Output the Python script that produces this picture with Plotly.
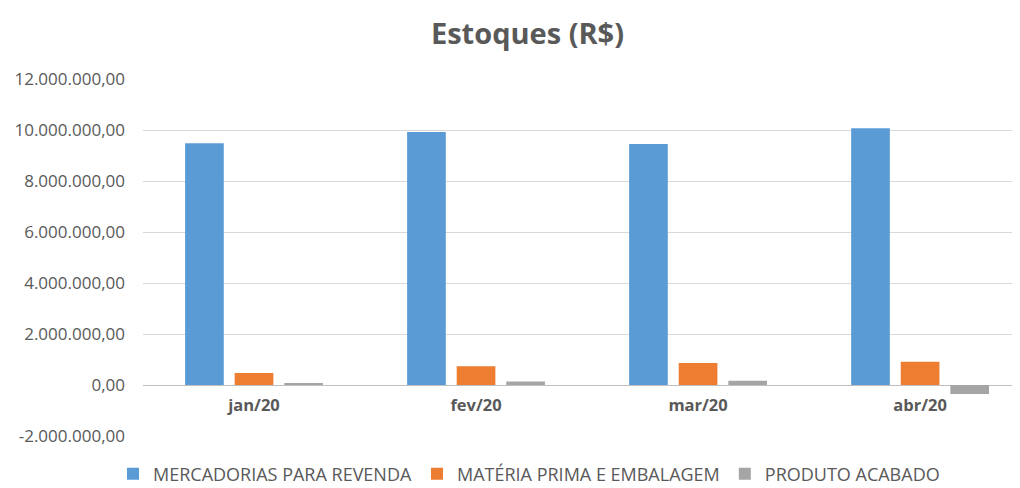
import plotly.graph_objects as go

categories = ["jan/20", "fev/20", "mar/20", "abr/20"]
mercadorias = [9480000, 9920000, 9450000, 10070000]
materia_prima = [470000, 740000, 860000, 910000]
produto_acabado = [70000, 140000, 170000, -350000]

series_names = ["MERCADORIAS PARA REVENDA", "MATÉRIA PRIMA E EMBALAGEM", "PRODUTO ACABADO"]
series_colors = ["#5B9BD5", "#ED7D31", "#A5A5A5"]

y_tickvals = [-2000000, 0, 2000000, 4000000, 6000000, 8000000, 10000000, 12000000]
y_ticktext = ["-2.000.000,00", "0,00", "2.000.000,00", "4.000.000,00", "6.000.000,00",
              "8.000.000,00", "10.000.000,00", "12.000.000,00"]

FONT = "Open Sans"
TXT = "#595959"

# page body has an 8px default margin, so the figure is 8px smaller and offset
W, H = 1012, 480

fig = go.Figure()
for name, vals, col in zip(series_names, [mercadorias, materia_prima, produto_acabado], series_colors):
    fig.add_trace(go.Bar(x=categories, y=vals, name=name, marker=dict(color=col, line=dict(width=0))))

fig.update_layout(
    width=W, height=H,
    paper_bgcolor="white", plot_bgcolor="white",
    margin=dict(l=135, r=0, t=71, b=52, autoexpand=False),
    barmode="group", bargap=0.33, bargroupgap=0.22,
    title=dict(text="<b>Estoques (R$)</b>", x=519.5 / W, xanchor="center", y=1 - 26 / H, yanchor="middle",
               xref="container", yref="container",
               font=dict(family=FONT, size=29, color=TXT)),
    font=dict(family=FONT, color=TXT),
    legend=dict(orientation="h", x=521 / W, xanchor="center", xref="container",
                y=14 / H, yanchor="middle", yref="container",
                font=dict(family=FONT, size=18, color=TXT),
                itemwidth=30, traceorder="normal"),
    showlegend=True,
)
fig.update_xaxes(type="category", range=[-0.5, 3.45], anchor="free", position=2/14,
                 automargin=False,
                 showgrid=False, showline=False, ticks="", ticklabelstandoff=8,
                 tickfont=dict(family=FONT, size=16.5, color=TXT, weight="bold"))
fig.update_yaxes(range=[-2000000, 12000000], tickvals=y_tickvals, ticktext=y_ticktext,
                 automargin=False,
                 showgrid=True, gridcolor="#D9D9D9", gridwidth=1,
                 zeroline=True, zerolinecolor="#BFBFBF", zerolinewidth=1,
                 showline=False, ticks="", ticklabelstandoff=17,
                 tickfont=dict(family=FONT, size=17, color=TXT))

fig.write_html("out.html")
